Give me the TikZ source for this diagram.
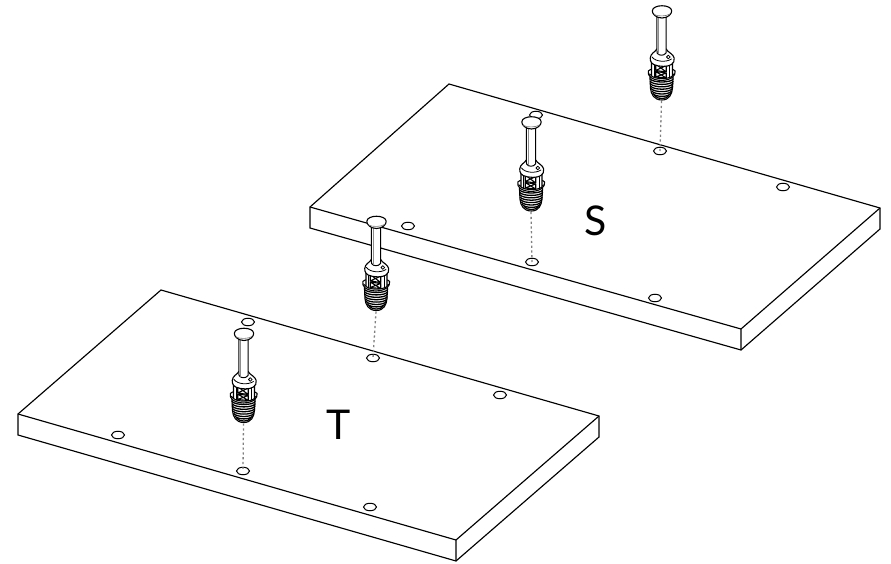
\documentclass[tikz,border=0pt]{standalone}
\usepackage{fontspec}
\setmainfont{Lato}
\usetikzlibrary{shapes.geometric}
\tikzset{
  edge/.style={line width=1.15pt,line join=miter},
  holemark/.style={draw,ellipse,line width=1pt,minimum width=13pt,minimum height=7.5pt,inner sep=0pt,fill=white},
  guide/.style={draw=black!50,line width=1.3pt,dash pattern=on 2.2pt off 2.6pt},
  boardlabel/.style={font=\fontsize{41}{41}\selectfont},
  pinpic/.pic={
    \begin{scope}[line width=0.9pt,line cap=round,line join=round]
    \begin{scope}[xscale=1.05]
    % thread
    \draw[fill=white,line width=1.1pt] (-11.5,65) -- (-11,76) .. controls (-10.5,82) and (-8,88) .. (0,88) .. controls (7,88) and (9.5,82) .. (10,76) -- (10.5,65) -- cycle;
    \foreach \yy/\w in {67/11.3,69.4/11.2,71.8/11,74.2/10.8,76.6/10.4,79/9.8,81.4/8.8,83.6/7}{
      \draw[line width=1.3pt] (-\w,\yy) .. controls (-\w+3,\yy+4) and (\w-3,\yy+4) .. (\w-0.6,\yy);
    }
    % flange
    \draw[fill=white,line width=1.1pt] (-13,59) .. controls (-14,64) and (-10,68) .. (-0.5,68.5) .. controls (9,68) and (13,64) .. (12.5,59) .. controls (10,55) and (-10,55) .. (-13,59) -- cycle;
    \draw[line width=1.1pt] (-12,62) .. controls (-9,66) and (8,66) .. (11.5,62);
    % body with windows
    \draw[fill=white,line width=1.1pt] (-10,48) -- (-10,64) .. controls (-6,67.5) and (6,67.5) .. (10,64) -- (10,48) -- cycle;
    \draw[line width=1.1pt] (-7.5,49) -- (-7.5,65.5) (7.5,49) -- (7.5,65.5);
    \draw[line width=1.1pt] (-6,52) -- (4,53.5) -- (4,60) -- (-6,58.5) -- cycle (-6,52) -- (4,60) (-6,58.5) -- (4,53.5);
    \draw[line width=1.1pt] (-6,59.5) -- (4,61) -- (4,66) -- (-6,65) -- cycle (-6,59.5) -- (4,66) (-6,65) -- (4,61);
    % collar
    \draw[fill=white,line width=1.1pt] (-5,37) .. controls (-6,40) and (-11,41) .. (-11.2,46) .. controls (-11.5,50) and (-9,52) .. (-8,52.5) .. controls (-3,55) and (6,55) .. (9,52.5) .. controls (11,51) and (12,49) .. (11.6,46) .. controls (11,42) and (5,40) .. (4,37) -- cycle;
    \draw[line width=0.8pt] (-9.5,45) .. controls (-6,50) and (4,50.5) .. (9,47);
    \draw[fill=white,line width=0.8pt] (6,45) circle[radius=1.8];
    \end{scope}
    % stem
    \draw[fill=white,line width=1pt] (-5.2,3) -- (-5,41) .. controls (-3,44) and (2,44) .. (4,41) -- (4.2,3) -- cycle;
    \draw[line width=0.7pt,draw=black!45] (-3.2,6) -- (-3.2,42);
    % head
    \draw[fill=white,line width=1.1pt] (-9.7,-1) .. controls (-9.7,-8) and (9.7,-8) .. (9.7,-1) .. controls (9.7,2) and (6,6) .. (0,6) .. controls (-6,6) and (-9.7,2) .. (-9.7,-1) -- cycle;
    \draw[line width=0.6pt,draw=black!55] (-8,2.5) .. controls (-4,4.5) and (4,4.5) .. (8,2);
    \end{scope}
    \coordinate (-tip) at (-0.5,89);
  }
}
\begin{document}
\begin{tikzpicture}[x=1pt,y=-1pt]
\useasboundingbox (0,0) rectangle (891,564);
% board S
\draw[edge,fill=white] (449,84) -- (880,208) -- (880,229) -- (741,350) -- (310,228) -- (310,207) -- cycle;
\draw[edge] (310,207) -- (741,329) -- (880,208) (741,329) -- (741,350);
\foreach \n/\p in {a/{536,115},b/{660,151},c/{783,187},d/{408,226},e/{532,262},f/{655,298}}
  \node[holemark] (S\n) at (\p) {};
% board T
\draw[edge,fill=white] (161,290) -- (599,416) -- (599,437) -- (456,561) -- (18,435) -- (18,414) -- cycle;
\draw[edge] (18,414) -- (456,540) -- (599,416) (456,540) -- (456,561);
\foreach \n/\p in {a/{248,322},b/{373,358},c/{500,395},d/{118,435},e/{243,471},f/{370,507}}
  \node[holemark] (T\n) at (\p) {};
% pins
\pic (p1) at (662,12) {pinpic};
\pic (p2) at (531.5,123) {pinpic};
\pic (p3) at (376.5,222.5) {pinpic};
\pic (p4) at (244,334.5) {pinpic};
\draw[guide] (p1-tip) -- (Sb.center);
\draw[guide] (p2-tip) -- (Se.center);
\draw[guide] (p3-tip) -- (Tb.center);
\draw[guide] (p4-tip) -- (Te.center);
\node[boardlabel] (labS) at (596,221) {S};
\node[boardlabel] (labT) at (339,425) {T};
\end{tikzpicture}
\end{document}
